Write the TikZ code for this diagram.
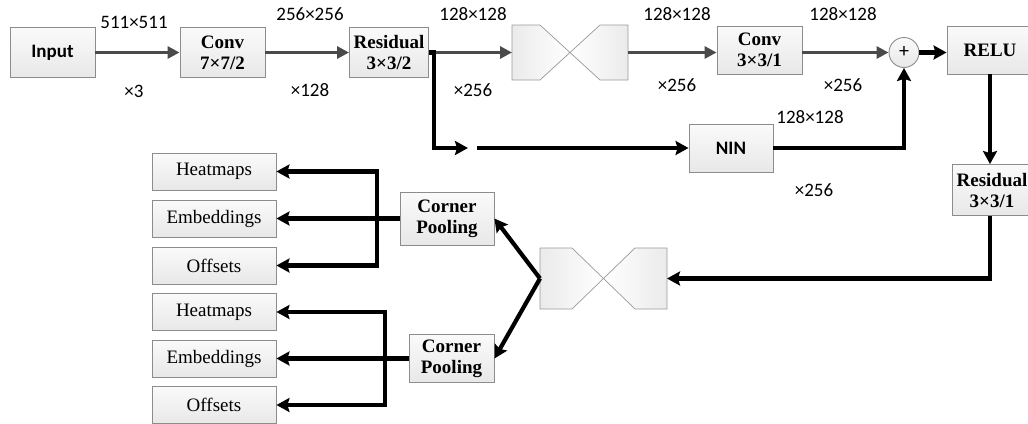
\documentclass[tikz,border=0pt]{standalone}
\usepackage{fontspec}
\setmainfont{Liberation Serif}
\newfontfamily\sansfam{Carlito}
\usetikzlibrary{arrows.meta,calc}

\definecolor{boxline}{HTML}{8C8C8C}
\definecolor{boxtop}{HTML}{FAFAFA}
\definecolor{boxbot}{HTML}{E8E8E8}
\definecolor{arrowgray}{HTML}{4A4A4A}
\definecolor{hgline}{HTML}{9A9A9A}

\tikzset{
  box/.style={draw=boxline, line width=0.9pt, top color=boxtop, bottom color=boxbot,
    inner sep=0pt, align=center, font=\fontsize{19}{21}\selectfont},
  layerbox/.style={box, font=\fontsize{19}{21}\selectfont\bfseries},
  sansbox/.style={box, font=\sansfam\fontsize{19}{21}\selectfont\bfseries},
  outbox/.style={box, minimum width=124pt, minimum height=37pt},
  hgframe/.style={minimum width=#1, inner sep=0pt, outer sep=0pt},
  hgleft/.style={draw=hgline, line width=0.7pt, left color=black!8, right color=white},
  hgright/.style={draw=hgline, line width=0.7pt, left color=white, right color=black!8},
  grayarrow/.style={draw=arrowgray, line width=3.8pt, -{Triangle[length=12pt,width=12pt]}},
  blackarrow/.style={draw=black, line width=4.2pt, -{Stealth[length=13pt,width=14pt,inset=2pt]}},
  dimlabel/.style={font=\sansfam\fontsize{19}{21}\selectfont, inner sep=0pt},
}

% bow-tie block: two notched halves meeting at the node centre
\newcommand\drawhourglass[2]{%
  \path[hgleft] (#1.north west) -- ($(#1.north west)+(#2,0)$) -- (#1.center)
    -- ($(#1.south west)+(#2,0)$) -- (#1.south west) -- cycle;
  \path[hgright] (#1.north east) -- ($(#1.north east)+(-#2,0)$) -- (#1.center)
    -- ($(#1.south east)+(-#2,0)$) -- (#1.south east) -- cycle;
}

\begin{document}
\begin{tikzpicture}[x=1pt,y=-1pt]
\useasboundingbox (0,0) rectangle (1028,423);
\clip (0,0) rectangle (1028,423);

% ---- top row ----
\node[sansbox, minimum width=85pt, minimum height=50pt] (input) at (52.5,52.5) {Input};
\node[layerbox, minimum width=85pt, minimum height=50pt] (conv1) at (222.5,52.5) {Conv\\7×7/2};
\node[layerbox, minimum width=79pt, minimum height=50pt] (res1) at (389,52.5) {Residual\\3×3/2};
\node[hgframe=116pt, minimum height=55pt] (hg1) at (570,52.5) {};
\node[layerbox, minimum width=85pt, minimum height=48pt] (conv3) at (759.5,50) {Conv\\3×3/1};
\node[circle, draw=boxline, line width=0.9pt, top color=boxtop, bottom color=boxbot,
      minimum size=30pt, inner sep=0pt,
      font=\sansfam\fontsize{20}{20}\selectfont] (sum) at (904,52.5) {+};
\node[layerbox, minimum width=86pt, minimum height=48pt] (relu) at (990,50) {RELU};

% ---- skip branch ----
\node[sansbox, minimum width=84pt, minimum height=48pt] (nin) at (731,148) {NIN};
\coordinate (brtop) at (434,52.5);
\coordinate (brgap) at (468,148);
\coordinate (brrest) at (477,148);

% ---- return path ----
\node[layerbox, minimum width=80pt, minimum height=51pt] (res2) at (992,190) {Residual\\3×3/1};
\node[hgframe=127pt, minimum height=61pt] (hg2) at (603.5,278.5) {};

% ---- heads ----
\node[layerbox, minimum width=94pt, minimum height=53pt] (cp1) at (447,218.5) {Corner\\Pooling};
\node[layerbox, minimum width=85pt, minimum height=48pt] (cp2) at (451.5,358.5) {Corner\\Pooling};

\node[outbox] (heat1) at (214,171.5) {Heatmaps};
\node[outbox] (emb1)  at (214,218.5) {Embeddings};
\node[outbox] (off1)  at (214,265.5) {Offsets};
\node[outbox] (heat2) at (214,312) {Heatmaps};
\node[outbox] (emb2)  at (214,358.5) {Embeddings};
\node[outbox] (off2)  at (214,405) {Offsets};

\coordinate (bus1) at (377,218.5);
\coordinate (bus2) at (385,358.5);

% bow-tie blocks
\drawhourglass{hg1}{28}
\drawhourglass{hg2}{32}

% ---- feature-map sizes ----
\node[dimlabel] (s1a) at (134,22) {511×511};
\node[dimlabel] (s1b) at (134,91) {×3};
\node[dimlabel] (s2a) at (310,14) {256×256};
\node[dimlabel] (s2b) at (310,90) {×128};
\node[dimlabel] (s3a) at (473,14) {128×128};
\node[dimlabel] (s3b) at (473,90) {×256};
\node[dimlabel] (s4a) at (677,14) {128×128};
\node[dimlabel] (s4b) at (677,85) {×256};
\node[dimlabel] (s5a) at (843,14) {128×128};
\node[dimlabel] (s5b) at (843,85) {×256};
\node[dimlabel] (s6a) at (810,117) {128×128};
\node[dimlabel] (s6b) at (814,190) {×256};

% ---- connectors: main path ----
\draw[grayarrow] (input.east) -- (conv1.west);
\draw[grayarrow] (conv1.east) -- (res1.west);
\draw[grayarrow] (res1.east) -- (hg1.west);
\draw[grayarrow] (hg1.east) -- (conv3.west |- hg1.east);
\draw[grayarrow] (conv3.east |- sum.west) -- (sum.west);
\draw[blackarrow] (sum.east) -- (relu.west |- sum.east);

% ---- connectors: skip branch ----
\draw[blackarrow] (res1.east) -- (brtop) -- (brtop |- brgap) -- (brgap);
\draw[blackarrow] (brrest) -- (nin.west);
\draw[blackarrow] (nin.east) -| (sum.south);

% ---- connectors: down and back ----
\draw[blackarrow] (relu.south) -- (relu.south |- res2.north);
\draw[blackarrow] (relu.south |- res2.south) |- (hg2.east);
\draw[blackarrow] (hg2.west) -- (cp1.east);
\draw[blackarrow] (hg2.west) -- (cp2.east);

% ---- connectors: output heads ----
\draw[blackarrow] (cp1.west) -- (emb1.east);
\draw[blackarrow] (bus1) |- (heat1.east);
\draw[blackarrow] (bus1) |- (off1.east);
\draw[blackarrow] (cp2.west) -- (emb2.east);
\draw[blackarrow] (bus2) |- (heat2.east);
\draw[blackarrow] (bus2) |- (off2.east);
\end{tikzpicture}
\end{document}
